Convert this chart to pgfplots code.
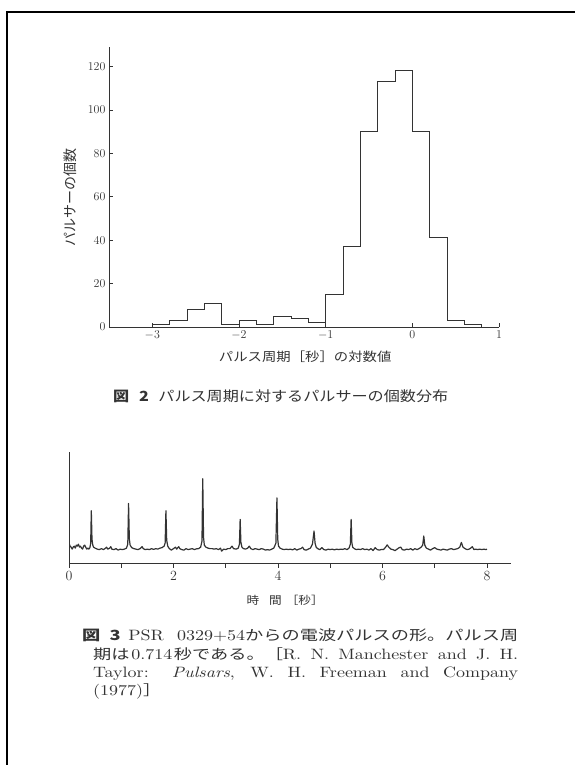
\documentclass[border=0pt]{standalone}
\usepackage{fontspec}
\usepackage{pgfplots}
\pgfplotsset{compat=1.18}
\newfontfamily\jp{Noto Sans CJK JP}
\newfontfamily\jps{Noto Sans CJK JP}[FakeStretch=1.15]
\newfontfamily\jpw{Noto Sans CJK JP}[FakeStretch=1.3]
\newfontfamily\capla{lmroman10-regular.otf}[FakeStretch=1.2,ItalicFont=lmroman10-italic.otf]
\definecolor{ink}{gray}{0.2}
\newcommand\La[1]{{\capla\fontsize{15}{18}\selectfont #1}}
\newcommand\Jw[1]{{\jpw\fontsize{14}{18}\selectfont #1}}
\begin{document}
\begin{tikzpicture}
\useasboundingbox (0pt,0pt) rectangle (575pt,765pt);
\draw[line width=2.2pt, black] (7pt,0pt) -- (7pt,753pt) -- (575pt,753pt);

% ---------- Figure 2: histogram ----------
\begin{axis}[
  at={(109pt,438pt)}, anchor=south west, scale only axis,
  width=390pt, height=280pt,
  xmin=-3.5, xmax=1, ymin=0, ymax=129,
  axis lines=left,
  axis line style={-, ink, line width=0.9pt},
  xtick={-3,-2,-1,0,1}, ytick={0,20,...,120},
  tick align=inside, major tick length=4pt,
  tick style={ink, line width=0.8pt},
  ticklabel style={font=\fontsize{12.5}{14}\selectfont, text=ink},
  xlabel={\jps\fontsize{12.5}{14}\selectfont パルス周期［秒］の対数値},
  ylabel={\jp\fontsize{14}{16}\selectfont パルサーの個数},
  xlabel style={at={(axis description cs:0.503,-0.125)}, anchor=base, text=ink},
  ylabel style={at={(axis description cs:-0.1,0.464)}, anchor=center, text=ink},
]
\addplot[const plot, ink, line width=1pt] coordinates {
(-3,0) (-3,1) (-2.8,3) (-2.6,8) (-2.4,11) (-2.2,1) (-2.0,3) (-1.8,1)
(-1.6,5) (-1.4,4) (-1.2,2) (-1.0,15) (-0.8,37) (-0.6,90) (-0.4,113)
(-0.2,118) (0,90) (0.2,41) (0.4,3) (0.6,1) (0.8,0)
};
\end{axis}

\node[anchor=base west, inner sep=0, text=ink] at (113pt,363pt)
  {\makebox[335pt][s]{\jps\fontsize{14}{16}\selectfont{\bfseries 図 2} パルス周期に対するパルサーの個数分布}};

% ---------- Figure 3: pulse train ----------
\begin{axis}[
  at={(69pt,202pt)}, anchor=south west, scale only axis,
  width=442pt, height=111pt,
  xmin=0, xmax=8.46, ymin=-14, ymax=98,
  axis lines=left,
  axis line style={-, ink, line width=0.8pt},
  ytick=\empty,
  xtick={0,...,8}, xticklabels={0,,2,,4,,6,,8},
  tick align=outside, major tick length=5pt,
  tick style={ink, line width=0.8pt},
  xticklabel style={font=\fontsize{14}{16}\selectfont, text=ink},
  xlabel={\jps\fontsize{11}{13}\selectfont 時\hspace{10pt}間\hspace{4pt}［秒］},
  xlabel style={at={(axis description cs:0.489,-0.378)}, anchor=base, text=ink},
]
\addplot[ink, line width=1.2pt, line join=round] coordinates {
(0,6) (0.02,3) (0.04,2) (0.06,0) (0.08,2) (0.10,3) (0.12,1) (0.14,4) (0.16,3)
(0.18,5) (0.20,2) (0.22,3) (0.24,1) (0.26,0) (0.28,3) (0.30,4) (0.32,2) (0.34,0)
(0.36,1) (0.38,0) (0.40,1.5) (0.415,6) (0.427,38.7) (0.44,10) (0.455,4) (0.47,2)
(0.50,1) (0.54,0) (0.58,-0.5) (0.62,0.5) (0.66,-0.5) (0.70,1) (0.72,2) (0.74,0)
(0.78,1) (0.80,2.5) (0.82,0) (0.86,-0.5) (0.90,0.5) (0.94,-1) (0.98,0) (1.02,-0.5)
(1.06,0) (1.10,1) (1.125,5) (1.14,46) (1.155,10) (1.17,4) (1.20,1.5) (1.24,0.5)
(1.28,0) (1.32,-0.5) (1.36,0.5) (1.40,2.5) (1.42,0.5) (1.46,-0.5) (1.50,0) (1.54,-0.5)
(1.58,0.5) (1.62,-0.3) (1.66,0.5) (1.70,0) (1.74,1) (1.78,1.5) (1.82,3) (1.84,6)
(1.855,38.7) (1.87,9) (1.89,3) (1.92,0.5) (1.96,-1) (2.00,0.5) (2.04,2) (2.06,0)
(2.10,2.5) (2.12,0.5) (2.16,-0.5) (2.20,-1) (2.24,0.5) (2.28,-0.5) (2.32,0) (2.36,0.5)
(2.40,-0.5) (2.44,0.3) (2.48,0.5) (2.52,2) (2.545,8) (2.56,71) (2.575,12) (2.59,4)
(2.62,2) (2.66,1) (2.70,0.5) (2.74,0.5) (2.78,0) (2.82,0.5) (2.86,-0.5) (2.90,1)
(2.92,-2) (2.96,0) (3.00,-0.5) (3.04,0.5) (3.08,0.5) (3.12,3) (3.15,0.5) (3.20,0)
(3.24,1) (3.262,5) (3.276,30) (3.29,7) (3.31,2) (3.34,0.5) (3.38,0) (3.42,1)
(3.45,3) (3.48,0.5) (3.52,-0.5) (3.56,0.5) (3.60,0) (3.64,-0.5) (3.68,0.5) (3.72,0)
(3.76,-1) (3.80,-0.5) (3.84,-1) (3.88,0) (3.92,1) (3.96,6) (3.98,51.7) (3.995,10)
(4.01,3) (4.04,1) (4.08,0) (4.12,-0.5) (4.16,0) (4.20,-0.5) (4.24,0) (4.28,-0.8)
(4.32,0.5) (4.36,-1) (4.40,0) (4.44,0.5) (4.47,2) (4.50,-0.5) (4.54,-1) (4.58,0)
(4.62,1) (4.66,5) (4.69,18.3) (4.71,6) (4.73,2) (4.76,0.5) (4.80,-0.5) (4.84,1.5)
(4.88,-0.5) (4.92,-1) (4.96,0) (5.00,-0.5) (5.04,0) (5.08,-0.8) (5.12,0) (5.16,-0.5)
(5.20,0) (5.24,-0.3) (5.28,0.5) (5.32,-0.5) (5.36,1) (5.385,5) (5.40,30) (5.415,6)
(5.43,2) (5.46,0.5) (5.50,-0.5) (5.54,0) (5.58,-0.5) (5.62,0.5) (5.66,-0.5) (5.70,0)
(5.74,-1) (5.78,0.5) (5.82,-1.5) (5.86,1.5) (5.90,-0.5) (5.94,-1) (5.98,-0.3) (6.02,-0.5)
(6.06,2) (6.09,4.3) (6.12,2) (6.16,0) (6.20,-0.5) (6.24,-1.5) (6.28,0) (6.32,1.5)
(6.35,2) (6.38,-0.5) (6.42,-1) (6.46,0) (6.50,-0.5) (6.54,0.5) (6.58,-1) (6.62,0.5)
(6.66,-0.5) (6.70,0.5) (6.74,2) (6.77,4) (6.79,13.3) (6.81,4) (6.84,1) (6.88,0)
(6.92,-1) (6.96,0.5) (7.00,1.5) (7.04,0) (7.08,-0.5) (7.12,-1) (7.16,0) (7.20,-0.5)
(7.24,-1) (7.28,0) (7.32,0.5) (7.36,-0.5) (7.40,0) (7.44,0.5) (7.48,2) (7.51,6.7)
(7.54,2) (7.58,0.5) (7.62,-0.5) (7.66,0) (7.70,1.5) (7.72,2.5) (7.75,-0.5) (7.78,0)
(7.82,-0.5) (7.86,0) (7.90,-0.5) (7.94,0) (7.98,-0.5) (8.00,0)
};
\end{axis}

% ---------- Caption of Figure 3 ----------
\begin{scope}[every node/.style={anchor=base west, inner sep=0, text=ink}]
\node at (82pt,124pt) {\makebox[436pt][s]{\Jw{\bfseries 図 3}\ \La{PSR 0329+54}\Jw{からの電波パルスの形。パルス周}}};
\node at (93pt,105pt) {\makebox[425pt][s]{\Jw{期は}\,\La{0.714}\,\Jw{秒である。［}\La{R. N. Manchester and J. H.}}};
\node at (93pt,87pt) {\makebox[425pt][s]{\La{Taylor: \textit{Pulsars}, W. H. Freeman and Company}}};
\node at (93pt,69pt) {\La{(1977)}\Jw{］}};
\end{scope}
\end{tikzpicture}
\end{document}
